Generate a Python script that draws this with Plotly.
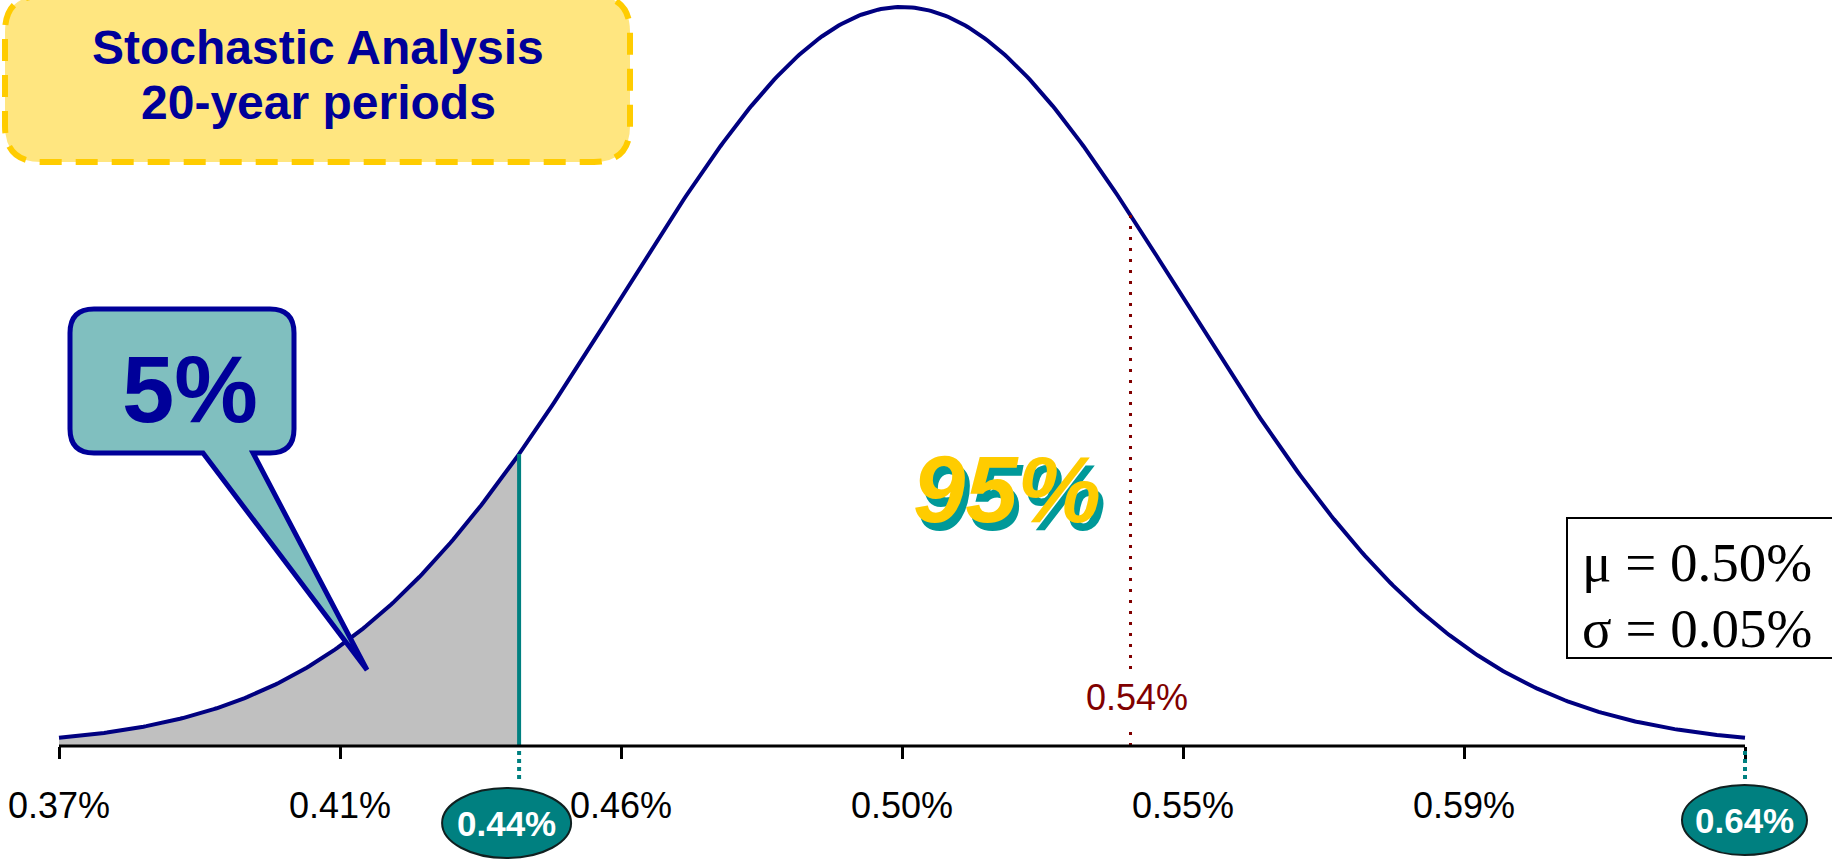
import numpy as np
import plotly.graph_objects as go

# Distribution parameters (percent)
mu = 0.502
sigma = 0.0455

# Axis ticks at mu + k*sigma, k = -3..3 (the last one is labelled by its oval)
tick_vals = [0.3655, 0.411, 0.4565, 0.502, 0.5475, 0.593, 0.6385]
tick_text = ["0.37%", "0.41%", "0.46%", "0.50%", "0.55%", "0.59%", ""]

x_min, x_max = 0.3655, 0.6385
lower_cut = 0.440      # lower tail boundary
upper_mark = 0.539     # dotted reference line
lower_label = "0.44%"
upper_label = "0.54%"
end_label = "0.64%"
tail_share = "5%"
body_share = "95%"
stats_lines = ["μ = 0.50%", "σ = 0.05%"]
title_lines = ["Stochastic Analysis", "20-year periods"]

W, H = 1832, 860


def pdf(x):
    return np.exp(-0.5 * ((x - mu) / sigma) ** 2) / (sigma * np.sqrt(2 * np.pi))


xs = np.linspace(x_min, x_max, 600)
ys = pdf(xs)
x_tail = xs[xs <= lower_cut]
x_tail = np.append(x_tail, lower_cut)
y_tail = pdf(x_tail)

peak = pdf(mu)
y_per_px = peak / 739.0
y_lo = -(H - 746) * y_per_px
y_hi = 746 * y_per_px
x_per_px = (x_max - x_min) / (1745 - 59)
x_lo = x_min - 59 * x_per_px
x_hi = x_min + (W - 59) * x_per_px


def P(px, py):
    return px / W, 1 - py / H


def rounded_path(x0, y0, x1, y1, r, tail=None):
    def pt(px, py):
        a, b = P(px, py)
        return f"{a:.5f},{b:.5f}"
    d = f"M{pt(x0 + r, y0)} L{pt(x1 - r, y0)} Q{pt(x1, y0)} {pt(x1, y0 + r)} "
    d += f"L{pt(x1, y1 - r)} Q{pt(x1, y1)} {pt(x1 - r, y1)} "
    if tail:
        (bx_r, bx_l, tx, ty) = tail
        d += f"L{pt(bx_r, y1)} L{pt(tx, ty)} L{pt(bx_l, y1)} "
    d += f"L{pt(x0 + r, y1)} Q{pt(x0, y1)} {pt(x0, y1 - r)} "
    d += f"L{pt(x0, y0 + r)} Q{pt(x0, y0)} {pt(x0 + r, y0)} Z"
    return d


fig = go.Figure()

# shaded lower tail
fig.add_trace(go.Scatter(
    x=x_tail, y=y_tail, mode="lines", fill="tozeroy",
    fillcolor="#C0C0C0", line=dict(width=0), hoverinfo="skip"))

# density curve
fig.add_trace(go.Scatter(
    x=xs, y=ys, mode="lines", line=dict(color="#000080", width=4),
    hoverinfo="skip"))

# lower boundary (solid teal)
fig.add_trace(go.Scatter(
    x=[lower_cut, lower_cut], y=[0, pdf(lower_cut)], mode="lines",
    line=dict(color="#008080", width=4), hoverinfo="skip"))

# dotted reference line
fig.add_trace(go.Scatter(
    x=[upper_mark, upper_mark], y=[0, pdf(upper_mark)], mode="lines",
    line=dict(color="#800000", width=3, dash="3px,8px"), hoverinfo="skip"))

shapes = []
# baseline
shapes.append(dict(type="line", xref="x", yref="y", x0=x_min, x1=x_max, y0=0, y1=0,
                   line=dict(color="black", width=3)))
# dotted teal drops below the axis
for xv in (lower_cut, x_max):
    shapes.append(dict(type="line", xref="x", yref="y", x0=xv, x1=xv,
                       ysizemode="pixel", yanchor=0, y0=-5, y1=-35,
                       line=dict(color="#008080", width=4, dash="4px,4px")))
# value ovals
for xv, dx0, dx1, dy0, dy1 in ((lower_cut, -77, 52, -42, -112), (x_max, -63, 62, -39, -109)):
    shapes.append(dict(type="circle", xref="x", yref="y",
                       xsizemode="pixel", xanchor=xv, x0=dx0, x1=dx1,
                       ysizemode="pixel", yanchor=0, y0=dy0, y1=dy1,
                       fillcolor="#008080", line=dict(color="#102020", width=2)))
# title box
shapes.append(dict(type="path", xref="paper", yref="paper",
                   path=rounded_path(5, -4, 630, 162, 36),
                   fillcolor="#FFE680", line=dict(color="#FFCC00", width=6, dash="22px,14px")))
# callout
shapes.append(dict(type="path", xref="paper", yref="paper",
                   path=rounded_path(70, 309, 294, 453, 24, tail=(253, 203, 367, 670)),
                   fillcolor="#80BFBF", line=dict(color="#000099", width=5)))
# stats box
x0p, y0p = P(1567, 518)
x1p, y1p = P(1845, 658)
shapes.append(dict(type="rect", xref="paper", yref="paper", x0=x0p, x1=x1p, y0=y1p, y1=y0p,
                   fillcolor="white", line=dict(color="black", width=2)))

annotations = []
# title text
for i, line in enumerate(title_lines):
    _, yp = P(0, 47 + 56 * i)
    annotations.append(dict(xref="paper", yref="paper", x=318 / W, y=yp, text=line,
                            showarrow=False, xanchor="center", yanchor="middle",
                            font=dict(family="Liberation Sans", size=48, color="#000099", weight="bold")))
# callout text
annotations.append(dict(xref="paper", yref="paper", x=190 / W, y=P(0, 390)[1], text=tail_share,
                        showarrow=False, xanchor="center", yanchor="middle",
                        font=dict(family="Liberation Sans", size=94, color="#000099", weight="bold")))
# 95% with offset shadow
annotations.append(dict(xref="paper", yref="paper", x=1007 / W, y=P(0, 489)[1], text=body_share,
                        showarrow=False, xanchor="center", yanchor="middle",
                        font=dict(family="Liberation Sans", size=94, color="#FFCC00",
                                  weight="bold", style="italic",
                                  shadow="5px 8px 0px #009999")))
# dotted-line value label
annotations.append(dict(xref="x", yref="y", x=upper_mark, y=0, yshift=49, xshift=6,
                        text=upper_label, showarrow=False, xanchor="center", yanchor="middle",
                        bgcolor="white", borderpad=6,
                        font=dict(family="Liberation Sans", size=36, color="#800000")))
# oval labels
for xv, txt, dx, dy in ((lower_cut, lower_label, -13, -77), (x_max, end_label, -1, -74)):
    annotations.append(dict(xref="x", yref="y", x=xv, y=0, xshift=dx, yshift=dy, text=txt,
                            showarrow=False, xanchor="center", yanchor="middle",
                            font=dict(family="Liberation Sans", size=35, color="white", weight="bold")))
# stats text
for i, line in enumerate(stats_lines):
    annotations.append(dict(xref="paper", yref="paper", x=1580 / W, y=P(0, 562 + 66 * i)[1],
                            text=line, showarrow=False, xanchor="left", yanchor="middle",
                            font=dict(family="Liberation Serif", size=55, color="black")))

fig.update_layout(
    width=W, height=H, margin=dict(l=0, r=0, t=0, b=0),
    paper_bgcolor="white", plot_bgcolor="white", showlegend=False,
    shapes=shapes, annotations=annotations,
    xaxis=dict(range=[x_lo, x_hi], anchor="free", position=(H - 746) / H,
               showline=False, showgrid=False, zeroline=False,
               tickmode="array", tickvals=tick_vals, ticktext=tick_text,
               ticks="outside", ticklen=12, tickwidth=3, tickcolor="black",
               ticklabelstandoff=16,
               tickfont=dict(family="Liberation Sans", size=36, color="black")),
    yaxis=dict(range=[y_lo, y_hi], visible=False, showgrid=False, zeroline=False),
)

fig.write_html("out.html")
